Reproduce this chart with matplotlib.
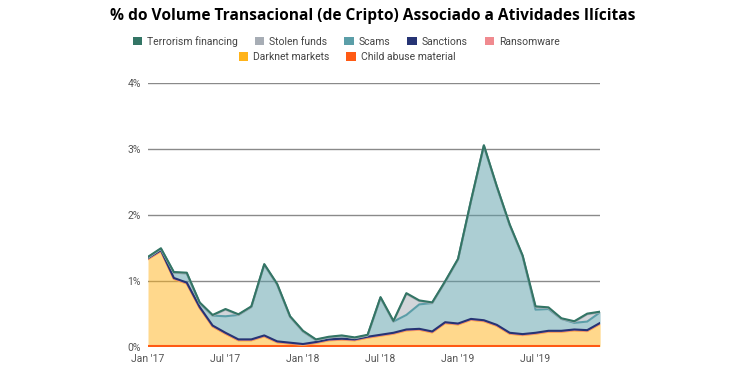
import numpy as np
import matplotlib
matplotlib.use("Agg")
import matplotlib.pyplot as plt
from matplotlib.patches import Patch

# monthly data, Jan 2017 .. Dec 2019 (% of crypto transaction volume)
months = ["Jan '17", "Feb '17", "Mar '17", "Apr '17", "May '17", "Jun '17",
          "Jul '17", "Aug '17", "Sep '17", "Oct '17", "Nov '17", "Dec '17",
          "Jan '18", "Feb '18", "Mar '18", "Apr '18", "May '18", "Jun '18",
          "Jul '18", "Aug '18", "Sep '18", "Oct '18", "Nov '18", "Dec '18",
          "Jan '19", "Feb '19", "Mar '19", "Apr '19", "May '19", "Jun '19",
          "Jul '19", "Aug '19", "Sep '19", "Oct '19", "Nov '19", "Dec '19"]
tick_labels = ["Jan '17", "Jul '17", "Jan '18", "Jul '18", "Jan '19", "Jul '19"]

child_abuse = [0.01, 0.01, 0.01, 0.01, 0.01, 0.01, 0.01, 0.01, 0.01, 0.01, 0.01, 0.01,
               0.01, 0.01, 0.01, 0.01, 0.01, 0.01, 0.01, 0.01, 0.01, 0.01, 0.01, 0.01,
               0.01, 0.01, 0.01, 0.01, 0.01, 0.01, 0.01, 0.01, 0.01, 0.01, 0.01, 0.01]
darknet = [1.32, 1.44, 1.02, 0.95, 0.58, 0.30, 0.19, 0.09, 0.09, 0.15, 0.06, 0.04,
           0.02, 0.05, 0.09, 0.10, 0.09, 0.13, 0.16, 0.19, 0.24, 0.25, 0.21, 0.35,
           0.33, 0.40, 0.38, 0.31, 0.19, 0.17, 0.19, 0.22, 0.22, 0.24, 0.23, 0.34]
ransomware = [0.005, 0.005, 0.005, 0.005, 0.005, 0.005, 0.005, 0.005, 0.005, 0.005, 0.005, 0.005,
              0.005, 0.005, 0.005, 0.005, 0.005, 0.005, 0.005, 0.005, 0.005, 0.005, 0.005, 0.005,
              0.005, 0.005, 0.005, 0.005, 0.005, 0.005, 0.005, 0.005, 0.005, 0.005, 0.005, 0.005]
sanctions = [0.01, 0.01, 0.01, 0.01, 0.01, 0.01, 0.01, 0.01, 0.01, 0.01, 0.01, 0.01,
             0.01, 0.01, 0.01, 0.01, 0.01, 0.01, 0.01, 0.01, 0.01, 0.01, 0.01, 0.01,
             0.01, 0.01, 0.01, 0.01, 0.01, 0.01, 0.01, 0.01, 0.01, 0.01, 0.01, 0.01]
scams = [0.01, 0.02, 0.08, 0.14, 0.06, 0.15, 0.25, 0.37, 0.49, 1.07, 0.86, 0.39,
         0.19, 0.03, 0.03, 0.04, 0.02, 0.02, 0.56, 0.17, 0.22, 0.37, 0.43, 0.61,
         0.97, 1.78, 2.64, 2.09, 1.63, 1.18, 0.35, 0.33, 0.18, 0.10, 0.13, 0.16]
stolen = [0.0, 0.0, 0.0, 0.0, 0.0, 0.0, 0.10, 0.0, 0.0, 0.0, 0.0, 0.0,
          0.0, 0.0, 0.0, 0.0, 0.0, 0.0, 0.0, 0.0, 0.32, 0.05, 0.0, 0.0,
          0.0, 0.0, 0.0, 0.0, 0.0, 0.0, 0.04, 0.015, 0.0, 0.015, 0.11, 0.0]
terrorism = [0.01, 0.01, 0.01, 0.01, 0.01, 0.01, 0.01, 0.01, 0.01, 0.01, 0.01, 0.01,
             0.01, 0.01, 0.01, 0.01, 0.01, 0.01, 0.01, 0.01, 0.01, 0.01, 0.01, 0.01,
             0.01, 0.01, 0.01, 0.01, 0.01, 0.01, 0.01, 0.01, 0.01, 0.01, 0.01, 0.01]

# bottom -> top stacking order
layers = [
    ("Child abuse material", child_abuse, "#ff5a14"),
    ("Darknet markets", darknet, "#ffb31a"),
    ("Ransomware", ransomware, "#f08a8f"),
    ("Sanctions", sanctions, "#263474"),
    ("Scams", scams, "#5b9ea8"),
    ("Stolen funds", stolen, "#a7adb5"),
    ("Terrorism financing", terrorism, "#337565"),
]
legend_order = ["Terrorism financing", "Stolen funds", "Scams", "Sanctions",
                "Ransomware", "Darknet markets", "Child abuse material"]

plt.rcParams["font.family"] = ["Roboto", "DejaVu Sans"]

fig = plt.figure(figsize=(7.4, 3.7), dpi=100)
ax = fig.add_axes([0.2, 0.0622, 0.611, 0.714])

x = np.arange(len(months))
base = np.zeros(len(months))
for name, vals, col in layers:
    top = base + np.array(vals)
    ax.fill_between(x, base, top, color=col, alpha=0.5, lw=0, zorder=2)
    base = top
# lines drawn after fills so lower lines stay visible
base = np.zeros(len(months))
for name, vals, col in layers:
    base = base + np.array(vals)
    ax.plot(x, base, color=col, lw=1.5, zorder=3, solid_joinstyle="round")

ax.set_xlim(0, len(months) - 1)
ax.set_ylim(0, 4)
ax.set_yticks([0, 1, 2, 3, 4])
ax.set_yticklabels(["0%", "1%", "2%", "3%", "4%"])
ax.set_xticks([months.index(t) for t in tick_labels])
ax.set_xticklabels(tick_labels)
ax.tick_params(length=0, labelsize=7.5, colors="#555555", pad=5)
ax.tick_params(axis="x", pad=5)
ax.grid(axis="y", color="#8a8a8a", lw=1, zorder=1)
for s in ax.spines.values():
    s.set_visible(False)

fig.text(0.504, 0.958, "% do Volume Transacional (de Cripto) Associado a Atividades Ilícitas",
         ha="center", va="center", fontsize=11.2, fontweight="bold", family="Open Sans")

colors = {name: col for name, vals, col in layers}
handles = [Patch(facecolor=colors[n], edgecolor="none", label=n) for n in legend_order]
kw = dict(frameon=False, fontsize=7.5, handlelength=0.9, handleheight=0.9,
          handletextpad=0.5, columnspacing=1.6, labelcolor="#444444")
fig.legend(handles=handles[:5], loc="center", bbox_to_anchor=(0.468, 0.889), ncol=5, **kw)
fig.legend(handles=handles[5:], loc="center", bbox_to_anchor=(0.469, 0.846), ncol=2, **kw)

fig.savefig("out.png", dpi=100)
